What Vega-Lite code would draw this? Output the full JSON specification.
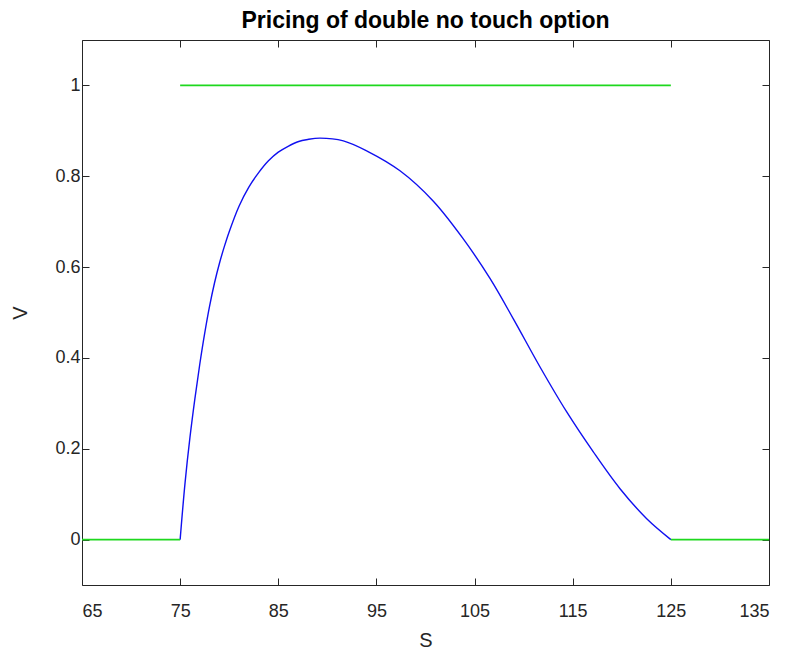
{
  "$schema": "https://vega.github.io/schema/vega-lite/v6.json",
  "width": 687,
  "height": 545,
  "autosize": {"type": "none"},
  "padding": {"left": 82, "top": 40, "right": 19, "bottom": 70},
  "background": "#ffffff",
  "title": {
    "text": "Pricing of double no touch option",
    "font": "Liberation Sans",
    "fontSize": 23,
    "fontWeight": "bold",
    "color": "#000000",
    "anchor": "middle",
    "offset": 7
  },
  "config": {
    "view": {"stroke": null},
    "axis": {
      "grid": false,
      "domainColor": "#262626",
      "domainWidth": 1,
      "tickColor": "#262626",
      "tickWidth": 1,
      "tickSize": -7,
      "labelColor": "#262626",
      "labelFont": "Liberation Sans",
      "labelFontSize": 18,
      "titleColor": "#262626",
      "titleFont": "Liberation Sans",
      "titleFontSize": 20,
      "titleFontWeight": "normal"
    }
  },
  "datasets": {
    "payoff": [
      {"S": 65, "V": 0, "seg": "a"},
      {"S": 75, "V": 0, "seg": "a"},
      {"S": 75, "V": 1, "seg": "b"},
      {"S": 125, "V": 1, "seg": "b"},
      {"S": 125, "V": 0, "seg": "c"},
      {"S": 135, "V": 0, "seg": "c"}
    ],
    "price": [
      {"S": 75, "V": 0},
      {"S": 75.5, "V": 0.125},
      {"S": 76, "V": 0.225},
      {"S": 76.5, "V": 0.31},
      {"S": 77, "V": 0.386},
      {"S": 77.5, "V": 0.454},
      {"S": 78, "V": 0.514},
      {"S": 78.5, "V": 0.565},
      {"S": 79, "V": 0.608},
      {"S": 79.5, "V": 0.645},
      {"S": 80, "V": 0.678},
      {"S": 81, "V": 0.734},
      {"S": 82, "V": 0.776},
      {"S": 83, "V": 0.808},
      {"S": 84, "V": 0.834},
      {"S": 85, "V": 0.853},
      {"S": 86, "V": 0.866},
      {"S": 87, "V": 0.876},
      {"S": 88, "V": 0.881},
      {"S": 89.25, "V": 0.884},
      {"S": 91.63, "V": 0.878},
      {"S": 94, "V": 0.856},
      {"S": 97.4, "V": 0.812},
      {"S": 100.8, "V": 0.745},
      {"S": 103.85, "V": 0.662},
      {"S": 106.57, "V": 0.575},
      {"S": 108.95, "V": 0.486},
      {"S": 111.67, "V": 0.38},
      {"S": 114.39, "V": 0.281},
      {"S": 117.1, "V": 0.193},
      {"S": 119.82, "V": 0.112},
      {"S": 122.54, "V": 0.046},
      {"S": 125, "V": 0}
    ]
  },
  "layer": [
    {
      "data": {"name": "price"},
      "mark": {"type": "line", "color": "#1010f0", "strokeWidth": 1.4, "interpolate": "catmull-rom"},
      "encoding": {
        "x": {
          "field": "S", "type": "quantitative",
          "scale": {"domain": [65, 135], "nice": false, "zero": false},
          "axis": {"orient": "bottom", "values": [65, 75, 85, 95, 105, 115, 125, 135], "format": "d", "labelPadding": 24, "title": "S", "titlePadding": 10}
        },
        "y": {
          "field": "V", "type": "quantitative",
          "scale": {"domain": [-0.1, 1.1], "nice": false, "zero": false},
          "axis": {"orient": "left", "values": [0, 0.2, 0.4, 0.6, 0.8, 1], "format": "~g", "labelPadding": 9, "title": "V", "titlePadding": 24}
        }
      }
    },
    {
      "data": {"name": "payoff"},
      "mark": {"type": "line", "color": "#1ed81e", "strokeWidth": 1.6},
      "encoding": {
        "x": {
          "field": "S", "type": "quantitative",
          "axis": {"orient": "top", "values": [65, 75, 85, 95, 105, 115, 125, 135], "labels": false, "title": null}
        },
        "y": {
          "field": "V", "type": "quantitative",
          "axis": {"orient": "right", "values": [0, 0.2, 0.4, 0.6, 0.8, 1], "labels": false, "title": null}
        },
        "detail": {"field": "seg"}
      }
    }
  ],
  "resolve": {"axis": {"x": "independent", "y": "independent"}}
}
